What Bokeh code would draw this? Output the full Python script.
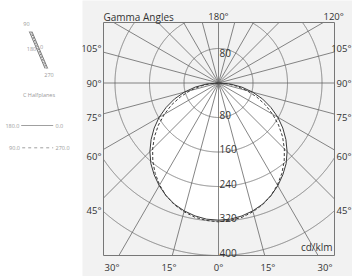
import numpy as np
from bokeh.plotting import figure
from bokeh.models import Range1d, Label
from bokeh.layouts import row
from bokeh.embed import file_html
from bokeh.resources import INLINE

# ---------------- data ----------------
gamma_deg = [0, 5, 10, 15, 20, 25, 30, 35, 40, 45, 50, 55, 60, 65, 70, 75, 80, 85, 90]
intensity_c0_180 = [318, 317, 313, 307, 299, 288, 275, 260, 244, 225, 204, 182, 159, 134, 109, 82, 55, 28, 0]
intensity_c90_270 = [322, 320, 316, 309, 300, 288, 273, 256, 237, 216, 194, 170, 145, 120, 94, 68, 43, 20, 0]
ring_values = [80, 160, 240, 320, 400]
ring_labels = ["80", "160", "240", "320", "400"]
spoke_angles = list(range(0, 360, 15))
side_angle_ticks = [105, 90, 75, 60, 45]
top_angle_ticks = [180, 120]
bottom_angle_ticks = [-30, -15, 0, 15, 30]
unit_label = "cd/klm"
axis_title = "Gamma Angles"
halfplane_title = "C Halfplanes"
halfplane_solid = ["180.0", "0.0"]
halfplane_dashed = ["90.0", "270.0"]
diagram_labels = ["90", "180", "0", "270"]

# ---------------- styling / layout ----------------
FONT = "Open Sans"
NARROW = "'Liberation Sans Narrow', 'Open Sans'"
TXT = "#333333"
GRID = "#666666"
CURVE = "#3a3a3a"
BG = "#f2f2f2"
PX = 0.43125          # screen px per cd/klm
U = 1.0 / PX          # cd/klm per px
CX, CY = 218.0, 82.5  # polar centre on the page
X0 = 82               # left edge of the right panel

# box of the diagram, in cd/klm
BL, BR = (103 - CX) * U, (334 - CX) * U
BT, BB = (CY - 22) * U, (CY - 255) * U

p = figure(width=352 - X0, height=276,
           x_range=Range1d((X0 - CX) * U, (352 - CX) * U),
           y_range=Range1d((CY - 276) * U, CY * U),
           min_border=0, output_backend="svg", toolbar_location=None,
           x_axis_type=None, y_axis_type=None)
p.background_fill_color = BG
p.border_fill_color = BG
p.outline_line_color = None

g = np.radians(np.array(gamma_deg, dtype=float))


def curve_xy(vals):
    v = np.array(vals, dtype=float)
    xr = v * np.sin(g)
    yr = -v * np.cos(g)
    xs = np.concatenate([-xr[::-1], xr[1:]])
    ys = np.concatenate([yr[::-1], yr[1:]])
    return xs, ys


def clip_runs(xs, ys):
    inside = (xs >= BL - 1e-6) & (xs <= BR + 1e-6) & (ys >= BB - 1e-6) & (ys <= BT + 1e-6)
    runs_x, runs_y = [], []
    cur_x, cur_y = [], []
    for x, y, ok in zip(xs, ys, inside):
        if ok:
            cur_x.append(float(x)); cur_y.append(float(y))
        elif cur_x:
            runs_x.append(cur_x); runs_y.append(cur_y); cur_x, cur_y = [], []
    if cur_x:
        runs_x.append(cur_x); runs_y.append(cur_y)
    return runs_x, runs_y


xs0, ys0 = curve_xy(intensity_c0_180)
xs9, ys9 = curve_xy(intensity_c90_270)

# white fill of the distribution
p.patch(xs0, ys0, fill_color="white", line_color=None)
p.patch(xs9, ys9, fill_color="white", line_color=None)

# spokes, ending on the box
sx, sy = [], []
for a in spoke_angles:
    t = np.radians(a)
    dx, dy = np.sin(t), -np.cos(t)
    ts = []
    if dx > 1e-9: ts.append(BR / dx)
    if dx < -1e-9: ts.append(BL / dx)
    if dy > 1e-9: ts.append(BT / dy)
    if dy < -1e-9: ts.append(BB / dy)
    r = min(ts)
    sx.append([0.0, r * dx])
    sy.append([0.0, r * dy])
p.multi_line(sx, sy, line_color=GRID, line_width=0.8)

# rings, clipped to the box
th = np.linspace(0, 2 * np.pi, 2881)
rx, ry = [], []
for v in ring_values:
    ax, ay = clip_runs(v * np.cos(th), v * np.sin(th))
    rx += ax; ry += ay
p.multi_line(rx, ry, line_color=GRID, line_width=0.8)

# distribution curves
p.line(xs0, ys0, line_color=CURVE, line_width=1.0)
p.line(xs9, ys9, line_color=CURVE, line_width=1.0, line_dash="3 2")

# box
p.line([BL, BR, BR, BL, BL], [BT, BT, BB, BB, BT], line_color="#777777", line_width=1)


def lab(fig, x, y, text, align="center", baseline="middle", size="10px", color=TXT, font=FONT):
    fig.add_layout(Label(x=x, y=y, text=text, text_font=font, text_font_size=size,
                         text_color=color, text_align=align, text_baseline=baseline))


# ring labels
for v, t in zip(ring_values, ring_labels):
    lab(p, 1 * U, -v + 3 * U, t, align="left")
lab(p, 1 * U, ring_values[0] - 4.5 * U, ring_labels[0], align="left")

lab(p, BR - 2 * U, BB + 2 * U, unit_label, align="right", baseline="bottom")

# gamma angle labels
SIDE = 127 * U
TOP = 66.5 * U
BOT = 184.5 * U
AS = "9.5px"
RIGHT_EDGE = (351 - CX) * U
for a in side_angle_ticks:
    t = np.radians(a)
    yv = -SIDE / np.tan(t) if a != 90 else 0.0
    lab(p, BL - 2 * U, yv, f"{a}°", align="right", size=AS, font=NARROW)
    lab(p, RIGHT_EDGE, yv, f"{a}°", align="right", size=AS, font=NARROW)
for a in top_angle_ticks:
    t = np.radians(a)
    xv = TOP * np.tan(np.pi - t) if a != 180 else 0.0
    lab(p, xv, TOP, f"{a}°", size=AS, font=NARROW)
for a in bottom_angle_ticks:
    t = np.radians(a)
    lab(p, BOT * np.tan(t), -BOT, f"{abs(a)}°", size=AS, font=NARROW)
lab(p, BL, TOP, axis_title, align="left")

# ---------------- left panel ----------------
q = figure(width=X0, height=276, x_range=Range1d(0, X0), y_range=Range1d(276, 0),
           min_border=0, output_backend="svg", toolbar_location=None,
           x_axis_type=None, y_axis_type=None)
q.background_fill_color = "white"
q.border_fill_color = "white"
q.outline_line_color = None
LG = "#999999"
q.line([28.8, 44.6], [31, 68], line_color="#555555", line_width=0.8)
q.line([30.2, 46.0], [31, 68], line_color="#555555", line_width=0.8, line_dash="2 1")
q.line([31.4, 47.2], [31, 68], line_color="#555555", line_width=0.8)
lab(q, 26, 23, diagram_labels[0], size="5.5px", color=LG)
lab(q, 31, 48, diagram_labels[1], size="5.5px", color=LG)
lab(q, 41, 46.5, diagram_labels[2], size="5.5px", color=LG)
lab(q, 48.5, 74, diagram_labels[3], size="5.5px", color=LG)
lab(q, 38.5, 94, halfplane_title, size="5.5px", color=LG)

q.line([20.7, 52.7], [125, 125], line_color="#888888", line_width=0.8)
lab(q, 19, 125, halfplane_solid[0], align="right", size="5.5px", color=LG)
lab(q, 55, 125, halfplane_solid[1], align="left", size="5.5px", color=LG)
q.line([21.7, 52.7], [147.3, 147.3], line_color="#888888", line_width=0.8, line_dash="3 3")
lab(q, 19.5, 147.3, halfplane_dashed[0], align="right", size="5.5px", color=LG)
lab(q, 55, 147.3, halfplane_dashed[1], align="left", size="5.5px", color=LG)

layout = row(q, p)
open("out.html", "w").write(file_html(layout, INLINE))
